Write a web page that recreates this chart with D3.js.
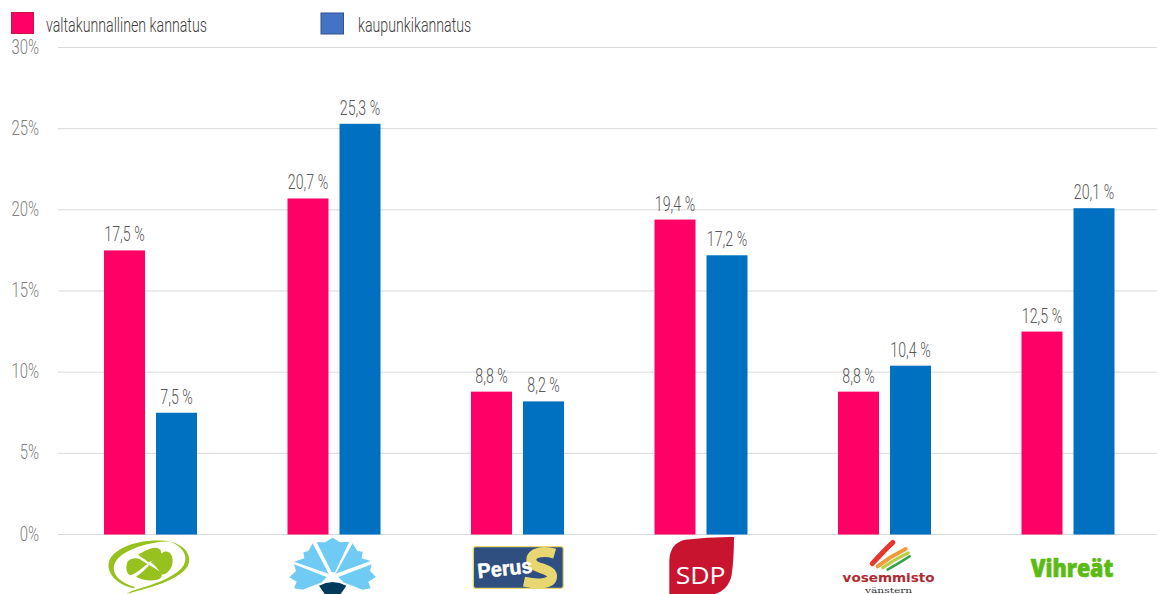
<!DOCTYPE html>
<html><head><meta charset="utf-8">
<script src="https://d3js.org/d3.v7.min.js"></script>
<style>html,body{margin:0;padding:0;background:#fff;overflow:hidden}svg{display:block}</style>
</head><body><svg id="c" width="1157" height="594"></svg>
<script>
const parties = ["Keskusta","Kokoomus","Perussuomalaiset","SDP","Vasemmisto","Vihreät"];
const national = [17.5,20.7,8.8,19.4,8.8,12.5];
const city = [7.5,25.3,8.2,17.2,10.4,20.1];
const yTicks = [0,5,10,15,20,25,30];
const seriesNames = ["valtakunnallinen kannatus","kaupunkikannatus"];

const FONT = "Roboto";
const K = 0.71;
const svg = d3.select("#c");
const y = d3.scaleLinear().domain([0,30]).range([534.5,47.5]);
const x = d3.scaleBand().domain(parties).range([58.75,1159.75]);
const bw = 41, gap = 11;

function label(sel,tx,ty,str,size,fill,anchor,k){
  const g = sel.append("g").attr("transform",`translate(${tx},${ty}) scale(${k||K},1)`);
  g.append("text").attr("font-family",FONT).attr("font-weight",300).attr("font-size",size)
   .attr("fill",fill).attr("text-anchor",anchor||"middle").text(str);
}

const axis = svg.append("g").attr("transform","translate(58,0)")
  .call(d3.axisLeft(y).tickValues(yTicks).tickSize(-1099).tickFormat("").offset(0));
axis.select(".domain").remove();
axis.selectAll("line").attr("stroke","#d9d9d9").attr("stroke-width",1);
yTicks.forEach(t=>label(svg,39,y(t)+6,t+"%",21,"#7f7f7f","end"));

const fmt = v => v.toFixed(1).replace(".",",")+" %";
const colors = ["#ff0066","#0070c0"];
[national,city].forEach((vals,si)=>{
  parties.forEach((p,i)=>{
    const cx = x(p)+x.bandwidth()/2;
    const left = si===0 ? cx-gap/2-bw : cx+gap/2;
    svg.append("rect").attr("x",left).attr("y",y(vals[i])).attr("width",bw)
      .attr("height",y(0)-y(vals[i])).attr("fill",colors[si]);
    label(svg,left+bw/2,y(vals[i])-9,fmt(vals[i]),20,"#595959");
  });
});

svg.append("rect").attr("x",11.5).attr("y",12.5).attr("width",22).attr("height",21)
  .attr("fill","#ff0066").attr("stroke","#c8163f");
svg.append("rect").attr("x",321).attr("y",13).attr("width",22.5).attr("height",21)
  .attr("fill","#4472c4").attr("stroke","#2f528f");
label(svg,46,32,seriesNames[0],20,"#404040","start");
label(svg,358,32,seriesNames[1],20,"#404040","start");

function logo(i,ox){
  const cx = x(parties[i])+x.bandwidth()/2;
  return svg.append("g").attr("transform",`translate(${cx-ox},525) scale(${1/3})`);
}
// clover
let g = logo(0,60.5);
const green="#97c11f";
g.append("path").attr("fill",green).attr("d","M132 190 C75 178 40 135 62 98 C92 55 180 38 250 50 C190 46 105 70 78 108 C58 140 85 172 135 186Z");
g.append("path").attr("fill",green).attr("d","M240 50 C285 58 310 95 292 125 C265 165 190 185 108 207 L125 198 C190 178 255 158 280 122 C298 92 275 62 240 50Z");
g.append("path").attr("fill",green).attr("d","M175 112 C165 102 152 98 144 88 C160 82 172 70 195 68 C215 68 218 85 208 97 C198 104 186 108 175 112Z");
g.append("path").attr("fill",green).attr("d","M182 112 C194 102 205 90 222 80 C245 76 252 100 246 122 C238 142 222 152 212 148 C205 132 196 122 182 112Z");
g.append("path").attr("fill",green).attr("d","M172 116 C158 128 140 144 120 151 C108 145 106 122 114 108 C124 98 140 98 150 102 C156 108 164 112 172 116Z");
g.append("path").attr("fill",green).attr("d","M178 120 C166 134 152 146 138 155 C155 166 188 170 208 162 C220 155 216 145 206 138 C196 130 188 126 178 120Z");
// carnation
g = logo(1,244);
const sky="#6fcbf4";
["M725 142 L680 52 L705 52 L728 38 L750 52 L778 50 L735 142 Z",
 "M737 146 L788 55 L802 78 L818 80 L815 100 L842 108 Z",
 "M716 146 L668 55 L655 78 L640 82 L643 100 L612 110 Z",
 "M745 156 L845 118 L840 138 L858 156 L835 170 L842 190 L818 194 L760 172 Z",
 "M710 156 L612 118 L618 138 L598 157 L620 170 L612 190 L638 194 L696 172 Z"]
 .forEach(d=>g.append("path").attr("fill",sky).attr("d",d));
g.append("path").attr("fill","#003a5c").attr("d","M687 182 Q728 160 769 182 L752 207 L704 207 Z");
// Perus S
g = logo(2,57.5);
g.append("rect").attr("x",40).attr("y",65).attr("width",270).attr("height",125).attr("rx",7)
  .attr("fill","#2f4f80").attr("stroke","#e8d771").attr("stroke-width",4);
g.append("path").attr("fill","none").attr("stroke","#e8d771").attr("stroke-width",30)
  .attr("d","M284 86 C250 76 212 82 214 106 C216 134 272 126 276 152 C278 180 230 178 192 170");
g.append("text").attr("transform","rotate(-6 55 160)").attr("x",55).attr("y",160).attr("font-family","Liberation Sans")
  .attr("font-weight",700).attr("font-size",62).attr("textLength",165).attr("lengthAdjust","spacingAndGlyphs")
  .attr("fill","#fff").attr("stroke","#fff").attr("stroke-width",1.5).text("Perus");
// SDP
g = logo(3,241);
g.append("path").attr("fill","#c8142f").attr("d","M628 207 L628 105 Q630 55 675 44 Q750 35 822 36 Q822 100 815 150 Q805 195 765 207 Z");
g.append("text").attr("x",722).attr("y",178).attr("text-anchor","middle").attr("font-family","Open Sans")
  .attr("font-size",72).attr("textLength",150).attr("lengthAdjust","spacingAndGlyphs").attr("fill","#fff").text("SDP");
// Vasemmisto
g = logo(4,54.25);
[["#e8352e",15,"M126 116 Q160 78 188 52"],["#f09a3e",12,"M142 124 Q180 95 226 72"],["#b9d14a",10,"M158 128 Q190 105 234 84"],["#3aa24a",8,"M172 134 Q205 115 238 94"]]
 .forEach(d=>g.append("path").attr("fill","none").attr("stroke",d[0]).attr("stroke-width",d[1]).attr("stroke-linecap","round").attr("d",d[2]));
g.append("text").attr("x",175).attr("y",172).attr("text-anchor","middle").attr("font-family","DejaVu Sans").attr("font-weight",700)
  .attr("font-size",38).attr("textLength",276).attr("lengthAdjust","spacingAndGlyphs").attr("fill","#b02a30").text("vosemmisto");
g.append("text").attr("x",175).attr("y",203).attr("text-anchor","middle").attr("font-family","DejaVu Serif")
  .attr("font-size",24).attr("textLength",142).attr("lengthAdjust","spacingAndGlyphs").attr("fill","#333").text("vänstern");
// Vihreät
g = logo(5,238);
g.append("text").attr("x",726).attr("y",155).attr("text-anchor","middle").attr("font-family","Open Sans").attr("font-weight",800)
  .attr("font-size",74).attr("textLength",248).attr("lengthAdjust","spacingAndGlyphs").attr("fill","#5bbb14").attr("stroke","#5bbb14").attr("stroke-width",2).text("Vihreät");
</script></body></html>
